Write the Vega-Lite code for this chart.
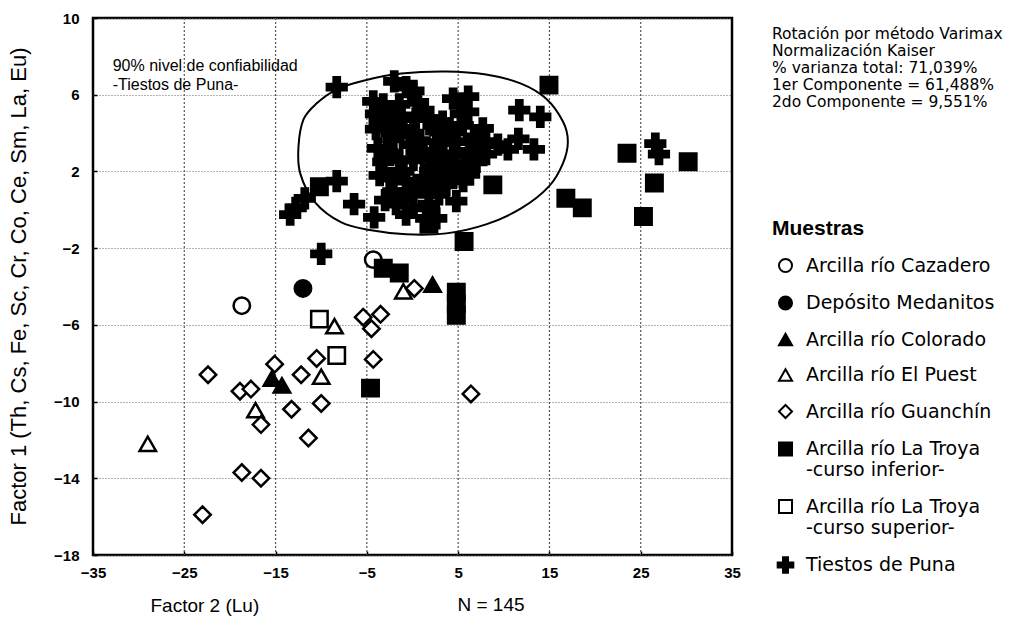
{
  "$schema": "https://vega.github.io/schema/vega-lite/v6.json",
  "width": 639,
  "height": 537,
  "autosize": {"type": "none"},
  "padding": {"left": 93, "top": 18, "right": 300, "bottom": 68},
  "background": "white",
  "datasets": {
    "xgrid": [{"gx": -25}, {"gx": -15}, {"gx": -5}, {"gx": 5}, {"gx": 15}, {"gx": 25}],
    "pts": [
      {"f2": -18.7, "f1": -5.0, "g": "Arcilla río Cazadero"},
      {"f2": -4.3, "f1": -2.6, "g": "Arcilla río Cazadero"},
      {"f2": -12.0, "f1": -4.1, "g": "Depósito Medanitos"},
      {"f2": 2.2, "f1": -3.9, "g": "Arcilla río Colorado"},
      {"f2": -15.4, "f1": -8.8, "g": "Arcilla río Colorado"},
      {"f2": -14.3, "f1": -9.15, "g": "Arcilla río Colorado"},
      {"f2": -29.0, "f1": -12.2, "g": "Arcilla río El Puest"},
      {"f2": -17.2, "f1": -10.45, "g": "Arcilla río El Puest"},
      {"f2": -10.0, "f1": -8.7, "g": "Arcilla río El Puest"},
      {"f2": -8.55, "f1": -6.07, "g": "Arcilla río El Puest"},
      {"f2": -1.0, "f1": -4.25, "g": "Arcilla río El Puest"},
      {"f2": -22.4, "f1": -8.6, "g": "Arcilla río Guanchín"},
      {"f2": -18.9, "f1": -9.46, "g": "Arcilla río Guanchín"},
      {"f2": -17.7, "f1": -9.35, "g": "Arcilla río Guanchín"},
      {"f2": -16.6, "f1": -11.2, "g": "Arcilla río Guanchín"},
      {"f2": -15.1, "f1": -8.05, "g": "Arcilla río Guanchín"},
      {"f2": -13.25, "f1": -10.4, "g": "Arcilla río Guanchín"},
      {"f2": -12.2, "f1": -8.6, "g": "Arcilla río Guanchín"},
      {"f2": -11.4, "f1": -11.9, "g": "Arcilla río Guanchín"},
      {"f2": -10.5, "f1": -7.75, "g": "Arcilla río Guanchín"},
      {"f2": -10.0, "f1": -10.1, "g": "Arcilla río Guanchín"},
      {"f2": -5.4, "f1": -5.6, "g": "Arcilla río Guanchín"},
      {"f2": -3.5, "f1": -5.45, "g": "Arcilla río Guanchín"},
      {"f2": -4.5, "f1": -6.2, "g": "Arcilla río Guanchín"},
      {"f2": -4.3, "f1": -7.8, "g": "Arcilla río Guanchín"},
      {"f2": 0.2, "f1": -4.1, "g": "Arcilla río Guanchín"},
      {"f2": 6.4, "f1": -9.6, "g": "Arcilla río Guanchín"},
      {"f2": -18.7, "f1": -13.7, "g": "Arcilla río Guanchín"},
      {"f2": -16.6, "f1": -14.0, "g": "Arcilla río Guanchín"},
      {"f2": -23.0, "f1": -15.9, "g": "Arcilla río Guanchín"},
      {"f2": -10.2, "f1": -5.7, "g": "Arcilla río La Troya -curso superior-"},
      {"f2": -8.3, "f1": -7.6, "g": "Arcilla río La Troya -curso superior-"},
      {"f2": -8.3, "f1": 6.4, "g": "Tiestos de Puna"},
      {"f2": -8.3, "f1": 1.5, "g": "Tiestos de Puna"},
      {"f2": -11.8, "f1": 0.6, "g": "Tiestos de Puna"},
      {"f2": -12.8, "f1": 0.1, "g": "Tiestos de Puna"},
      {"f2": -13.4, "f1": -0.25, "g": "Tiestos de Puna"},
      {"f2": -6.4, "f1": 0.3, "g": "Tiestos de Puna"},
      {"f2": -4.2, "f1": -0.4, "g": "Tiestos de Puna"},
      {"f2": -10.0, "f1": -2.3, "g": "Tiestos de Puna"},
      {"f2": 11.7, "f1": 5.2, "g": "Tiestos de Puna"},
      {"f2": 14.0, "f1": 4.85, "g": "Tiestos de Puna"},
      {"f2": 11.6, "f1": 3.7, "g": "Tiestos de Puna"},
      {"f2": 13.3, "f1": 3.15, "g": "Tiestos de Puna"},
      {"f2": 26.6, "f1": 3.45, "g": "Tiestos de Puna"},
      {"f2": 27.0, "f1": 2.9, "g": "Tiestos de Puna"},
      {"f2": 4.8, "f1": 0.45, "g": "Tiestos de Puna"},
      {"f2": -2.0, "f1": 6.7, "g": "Tiestos de Puna"},
      {"f2": -0.7, "f1": 6.4, "g": "Tiestos de Puna"},
      {"f2": 0.1, "f1": 6.2, "g": "Tiestos de Puna"},
      {"f2": -4.3, "f1": 5.65, "g": "Tiestos de Puna"},
      {"f2": -3.2, "f1": 5.5, "g": "Tiestos de Puna"},
      {"f2": -1.45, "f1": 5.5, "g": "Tiestos de Puna"},
      {"f2": -4.0, "f1": 5.0, "g": "Tiestos de Puna"},
      {"f2": -2.1, "f1": 5.1, "g": "Tiestos de Puna"},
      {"f2": 1.2, "f1": 5.2, "g": "Tiestos de Puna"},
      {"f2": -3.6, "f1": 4.6, "g": "Tiestos de Puna"},
      {"f2": 0.35, "f1": 4.75, "g": "Tiestos de Puna"},
      {"f2": 1.8, "f1": 4.75, "g": "Tiestos de Puna"},
      {"f2": -4.0, "f1": 4.2, "g": "Tiestos de Puna"},
      {"f2": -1.0, "f1": 4.25, "g": "Tiestos de Puna"},
      {"f2": 0.1, "f1": 4.0, "g": "Tiestos de Puna"},
      {"f2": 2.6, "f1": 4.1, "g": "Tiestos de Puna"},
      {"f2": -2.1, "f1": 3.7, "g": "Tiestos de Puna"},
      {"f2": 1.2, "f1": 3.05, "g": "Tiestos de Puna"},
      {"f2": 2.6, "f1": 3.05, "g": "Tiestos de Puna"},
      {"f2": -3.2, "f1": 2.5, "g": "Tiestos de Puna"},
      {"f2": -1.45, "f1": 2.6, "g": "Tiestos de Puna"},
      {"f2": 0.1, "f1": 2.6, "g": "Tiestos de Puna"},
      {"f2": 1.8, "f1": 2.7, "g": "Tiestos de Puna"},
      {"f2": -2.5, "f1": 1.65, "g": "Tiestos de Puna"},
      {"f2": -0.7, "f1": 1.5, "g": "Tiestos de Puna"},
      {"f2": 1.2, "f1": 1.65, "g": "Tiestos de Puna"},
      {"f2": 2.6, "f1": 1.5, "g": "Tiestos de Puna"},
      {"f2": -2.1, "f1": 0.95, "g": "Tiestos de Puna"},
      {"f2": -0.35, "f1": 0.95, "g": "Tiestos de Puna"},
      {"f2": 1.8, "f1": 0.8, "g": "Tiestos de Puna"},
      {"f2": -1.8, "f1": 0.3, "g": "Tiestos de Puna"},
      {"f2": 0.1, "f1": 0.1, "g": "Tiestos de Puna"},
      {"f2": 1.8, "f1": 0.3, "g": "Tiestos de Puna"},
      {"f2": -0.7, "f1": -0.25, "g": "Tiestos de Puna"},
      {"f2": 1.5, "f1": -0.45, "g": "Tiestos de Puna"},
      {"f2": 4.45, "f1": 5.8, "g": "Tiestos de Puna"},
      {"f2": 6.1, "f1": 5.9, "g": "Tiestos de Puna"},
      {"f2": 5.3, "f1": 5.0, "g": "Tiestos de Puna"},
      {"f2": 6.1, "f1": 5.1, "g": "Tiestos de Puna"},
      {"f2": 4.0, "f1": 4.25, "g": "Tiestos de Puna"},
      {"f2": 7.7, "f1": 4.25, "g": "Tiestos de Puna"},
      {"f2": 6.75, "f1": 3.8, "g": "Tiestos de Puna"},
      {"f2": 3.35, "f1": 3.55, "g": "Tiestos de Puna"},
      {"f2": 4.8, "f1": 3.55, "g": "Tiestos de Puna"},
      {"f2": 8.05, "f1": 3.55, "g": "Tiestos de Puna"},
      {"f2": 9.35, "f1": 3.4, "g": "Tiestos de Puna"},
      {"f2": 2.9, "f1": 2.9, "g": "Tiestos de Puna"},
      {"f2": 4.45, "f1": 2.9, "g": "Tiestos de Puna"},
      {"f2": 6.2, "f1": 3.05, "g": "Tiestos de Puna"},
      {"f2": 8.05, "f1": 2.9, "g": "Tiestos de Puna"},
      {"f2": 10.45, "f1": 3.15, "g": "Tiestos de Puna"},
      {"f2": 3.35, "f1": 2.0, "g": "Tiestos de Puna"},
      {"f2": 4.8, "f1": 2.0, "g": "Tiestos de Puna"},
      {"f2": 6.2, "f1": 1.85, "g": "Tiestos de Puna"},
      {"f2": 3.7, "f1": 1.3, "g": "Tiestos de Puna"},
      {"f2": 5.55, "f1": 1.5, "g": "Tiestos de Puna"},
      {"f2": 2.9, "f1": 0.8, "g": "Tiestos de Puna"},
      {"f2": 2.6, "f1": -0.45, "g": "Tiestos de Puna"},
      {"f2": -3.8, "f1": 3.2, "g": "Tiestos de Puna"},
      {"f2": -2.8, "f1": 3.0, "g": "Tiestos de Puna"},
      {"f2": -0.3, "f1": 3.4, "g": "Tiestos de Puna"},
      {"f2": 0.8, "f1": 3.6, "g": "Tiestos de Puna"},
      {"f2": 3.3, "f1": 4.6, "g": "Tiestos de Puna"},
      {"f2": 5.5, "f1": 4.4, "g": "Tiestos de Puna"},
      {"f2": 7.0, "f1": 2.5, "g": "Tiestos de Puna"},
      {"f2": -2.8, "f1": 4.6, "g": "Tiestos de Puna"},
      {"f2": -1.2, "f1": 4.9, "g": "Tiestos de Puna"},
      {"f2": 0.6, "f1": 5.6, "g": "Tiestos de Puna"},
      {"f2": 2.0, "f1": 2.2, "g": "Tiestos de Puna"},
      {"f2": 3.9, "f1": 2.5, "g": "Tiestos de Puna"},
      {"f2": 5.6, "f1": 2.4, "g": "Tiestos de Puna"},
      {"f2": -3.6, "f1": 1.8, "g": "Tiestos de Puna"},
      {"f2": -1.0, "f1": 2.0, "g": "Tiestos de Puna"},
      {"f2": 0.6, "f1": 1.2, "g": "Tiestos de Puna"},
      {"f2": -3.0, "f1": 0.5, "g": "Tiestos de Puna"},
      {"f2": -0.9, "f1": 0.6, "g": "Tiestos de Puna"},
      {"f2": 3.0, "f1": 3.5, "g": "Tiestos de Puna"},
      {"f2": 4.2, "f1": 1.7, "g": "Tiestos de Puna"},
      {"f2": 7.4, "f1": 3.0, "g": "Tiestos de Puna"},
      {"f2": -2.3, "f1": 4.0, "g": "Tiestos de Puna"},
      {"f2": 2.3, "f1": 4.4, "g": "Tiestos de Puna"},
      {"f2": -10.2, "f1": 1.2, "g": "Arcilla río La Troya -curso inferior-"},
      {"f2": -3.2, "f1": -3.05, "g": "Arcilla río La Troya -curso inferior-"},
      {"f2": -1.45, "f1": -3.3, "g": "Arcilla río La Troya -curso inferior-"},
      {"f2": 4.8, "f1": -4.3, "g": "Arcilla río La Troya -curso inferior-"},
      {"f2": 4.8, "f1": -4.9, "g": "Arcilla río La Troya -curso inferior-"},
      {"f2": 4.8, "f1": -5.5, "g": "Arcilla río La Troya -curso inferior-"},
      {"f2": -4.6, "f1": -9.3, "g": "Arcilla río La Troya -curso inferior-"},
      {"f2": 1.8, "f1": -0.75, "g": "Arcilla río La Troya -curso inferior-"},
      {"f2": 5.65, "f1": -1.65, "g": "Arcilla río La Troya -curso inferior-"},
      {"f2": 8.8, "f1": 1.3, "g": "Arcilla río La Troya -curso inferior-"},
      {"f2": 14.95, "f1": 6.5, "g": "Arcilla río La Troya -curso inferior-"},
      {"f2": 16.8, "f1": 0.6, "g": "Arcilla río La Troya -curso inferior-"},
      {"f2": 18.6, "f1": 0.1, "g": "Arcilla río La Troya -curso inferior-"},
      {"f2": 23.5, "f1": 2.95, "g": "Arcilla río La Troya -curso inferior-"},
      {"f2": 26.5, "f1": 1.4, "g": "Arcilla río La Troya -curso inferior-"},
      {"f2": 25.3, "f1": -0.35, "g": "Arcilla río La Troya -curso inferior-"},
      {"f2": 30.2, "f1": 2.5, "g": "Arcilla río La Troya -curso inferior-"}
    ],
    "ellipse": [
      {"i": 1, "f2": -12.49, "f1": 3.3},
      {"i": 2, "f2": -11.94, "f1": 4.71},
      {"i": 3, "f2": -10.52, "f1": 5.54},
      {"i": 4, "f2": -8.33, "f1": 6.27},
      {"i": 5, "f2": -5.27, "f1": 6.74},
      {"i": 6, "f2": -1.23, "f1": 7.1},
      {"i": 7, "f2": 3.69, "f1": 7.21},
      {"i": 8, "f2": 8.06, "f1": 7.05},
      {"i": 9, "f2": 11.89, "f1": 6.58},
      {"i": 10, "f2": 14.62, "f1": 5.8},
      {"i": 11, "f2": 16.48, "f1": 4.6},
      {"i": 12, "f2": 17.02, "f1": 3.56},
      {"i": 13, "f2": 16.48, "f1": 2.42},
      {"i": 14, "f2": 14.95, "f1": 1.22},
      {"i": 15, "f2": 11.89, "f1": 0.07},
      {"i": 16, "f2": 8.06, "f1": -0.76},
      {"i": 17, "f2": 3.69, "f1": -1.23},
      {"i": 18, "f2": -0.68, "f1": -1.28},
      {"i": 19, "f2": -4.51, "f1": -1.07},
      {"i": 20, "f2": -7.79, "f1": -0.66},
      {"i": 21, "f2": -10.7, "f1": 0.4},
      {"i": 22, "f2": -12.3, "f1": 1.9}
    ],
    "note": [{"n": 1}]
  },
  "layer": [
    {
      "data": {"name": "xgrid"},
      "mark": {"type": "rule", "color": "#555555", "strokeDash": [2, 2], "strokeWidth": 1.2},
      "encoding": {
        "x": {
          "field": "gx", "type": "quantitative",
          "scale": {"domain": [-35, 35], "nice": false, "zero": false},
          "axis": {
            "title": "Factor 2 (Lu)",
            "values": [-35, -25, -15, -5, 5, 15, 25, 35],
            "grid": false,
            "labelOverlap": false,
            "labelFlush": false,
            "titleX": 57,
            "titleY": 50,
            "titleAlign": "left",
            "titleBaseline": "middle",
            "titleAnchor": null
          }
        }
      }
    },
    {
      "data": {"name": "pts"},
      "mark": {"type": "point", "filled": true, "opacity": 1, "strokeWidth": 2.5, "size": 270},
      "encoding": {
        "x": {
          "field": "f2", "type": "quantitative",
          "scale": {"domain": [-35, 35], "nice": false, "zero": false},
          "axis": {
            "title": "Factor 2 (Lu)",
            "values": [-35, -25, -15, -5, 5, 15, 25, 35],
            "grid": false,
            "labelOverlap": false,
            "labelFlush": false,
            "titleX": 57,
            "titleY": 50,
            "titleAlign": "left",
            "titleBaseline": "middle",
            "titleAnchor": null
          }
        },
        "y": {
          "field": "f1", "type": "quantitative",
          "scale": {"domain": [-18, 10], "nice": false, "zero": false},
          "axis": {
            "title": "Factor 1 (Th, Cs, Fe, Sc, Cr, Co, Ce, Sm, La, Eu)",
            "values": [-18,-17,-16,-15,-14,-13,-12,-11,-10,-9,-8,-7,-6,-5,-4,-3,-2,-1,0,1,2,3,4,5,6,7,8,9,10],
            "labelExpr": "(datum.value + 18) % 4 == 0 ? datum.label : ''",
            "grid": true,
            "gridOpacity": {"condition": {"test": "(datum.value + 18) % 4 == 0", "value": 1}, "value": 0},
            "labelOverlap": false,
            "labelFlush": false,
            "labelPadding": 18,
            "titleX": -75,
            "titleY": 268,
            "titleAngle": -90,
            "titleAlign": "center",
            "titleBaseline": "middle",
            "titleAnchor": null,
            "titleFontSize": 22
          }
        },
        "shape": {
          "field": "g", "type": "nominal",
          "scale": {
            "domain": ["Arcilla río Cazadero", "Depósito Medanitos", "Arcilla río Colorado", "Arcilla río El Puest", "Arcilla río Guanchín", "Arcilla río La Troya -curso inferior-", "Arcilla río La Troya -curso superior-", "Tiestos de Puna"],
            "range": ["circle", "circle", "triangle-up", "triangle-up", "diamond", "square", "square", "M-1.2,-0.38H-0.38V-1.2H0.38V-0.38H1.2V0.38H0.38V1.2H-0.38V0.38H-1.2Z"]
          },
          "legend": {
            "title": "Muestras",
            "orient": "none", "legendX": 679, "legendY": 200,
            "labelExpr": "datum.label == 'Arcilla río La Troya -curso inferior-' ? ['Arcilla río La Troya', '-curso inferior-'] : datum.label == 'Arcilla río La Troya -curso superior-' ? ['Arcilla río La Troya', '-curso superior-'] : datum.label"
          }
        },
        "fill": {
          "field": "g", "type": "nominal",
          "scale": {
            "domain": ["Arcilla río Cazadero", "Depósito Medanitos", "Arcilla río Colorado", "Arcilla río El Puest", "Arcilla río Guanchín", "Arcilla río La Troya -curso inferior-", "Arcilla río La Troya -curso superior-", "Tiestos de Puna"],
            "range": ["white", "black", "black", "white", "white", "black", "white", "black"]
          },
          "legend": {
            "title": "Muestras",
            "orient": "none", "legendX": 679, "legendY": 200,
            "labelExpr": "datum.label == 'Arcilla río La Troya -curso inferior-' ? ['Arcilla río La Troya', '-curso inferior-'] : datum.label == 'Arcilla río La Troya -curso superior-' ? ['Arcilla río La Troya', '-curso superior-'] : datum.label"
          }
        },
        "stroke": {
          "field": "g", "type": "nominal",
          "scale": {
            "domain": ["Arcilla río Cazadero", "Depósito Medanitos", "Arcilla río Colorado", "Arcilla río El Puest", "Arcilla río Guanchín", "Arcilla río La Troya -curso inferior-", "Arcilla río La Troya -curso superior-", "Tiestos de Puna"],
            "range": ["black", "black", "black", "black", "black", "black", "black", "black"]
          },
          "legend": {
            "title": "Muestras",
            "orient": "none", "legendX": 679, "legendY": 200,
            "labelExpr": "datum.label == 'Arcilla río La Troya -curso inferior-' ? ['Arcilla río La Troya', '-curso inferior-'] : datum.label == 'Arcilla río La Troya -curso superior-' ? ['Arcilla río La Troya', '-curso superior-'] : datum.label"
          }
        }
      }
    },
    {
      "data": {"name": "ellipse"},
      "mark": {"type": "line", "interpolate": "cardinal-closed", "stroke": "black", "strokeWidth": 2},
      "encoding": {
        "x": {"field": "f2", "type": "quantitative", "scale": {"domain": [-35, 35], "nice": false, "zero": false}},
        "y": {"field": "f1", "type": "quantitative", "scale": {"domain": [-18, 10], "nice": false, "zero": false}},
        "order": {"field": "i", "type": "quantitative"}
      }
    },
    {
      "data": {"name": "note"},
      "mark": {"type": "text", "align": "left", "baseline": "alphabetic", "fontSize": 16, "lineHeight": 19.5, "font": "Liberation Sans", "color": "black"},
      "encoding": {
        "x": {"datum": -32.84, "type": "quantitative", "scale": {"domain": [-35, 35], "nice": false, "zero": false}},
        "y": {"datum": 7.25, "type": "quantitative", "scale": {"domain": [-18, 10], "nice": false, "zero": false}},
        "text": {"value": ["90% nivel de confiabilidad", "-Tiestos de Puna-"]}
      }
    },
    {
      "data": {"name": "note"},
      "mark": {"type": "text", "align": "left", "baseline": "alphabetic", "fontSize": 15.5, "lineHeight": 17, "font": "DejaVu Sans", "color": "black"},
      "encoding": {
        "x": {"datum": 39.38, "type": "quantitative", "scale": {"domain": [-35, 35], "nice": false, "zero": false}},
        "y": {"datum": 8.93, "type": "quantitative", "scale": {"domain": [-18, 10], "nice": false, "zero": false}},
        "text": {"value": ["Rotación por método Varimax", "Normalización Kaiser", "% varianza total: 71,039%", "1er Componente = 61,488%", "2do Componente = 9,551%"]}
      }
    },
    {
      "data": {"name": "note"},
      "mark": {"type": "text", "align": "center", "baseline": "middle", "fontSize": 19, "font": "Liberation Sans", "color": "black"},
      "encoding": {
        "x": {"datum": 8.6, "type": "quantitative", "scale": {"domain": [-35, 35], "nice": false, "zero": false}},
        "y": {"datum": -20.6, "type": "quantitative", "scale": {"domain": [-18, 10], "nice": false, "zero": false}},
        "text": {"value": "N = 145"}
      }
    }
  ],
  "config": {
    "font": "Liberation Sans",
    "view": {"stroke": "black", "strokeWidth": 2.5},
    "axis": {
      "domain": false,
      "labelFont": "Liberation Sans",
      "labelFontSize": 15,
      "labelFontWeight": "bold",
      "labelColor": "black",
      "labelPadding": 14,
      "titleFont": "Liberation Sans",
      "titleFontSize": 19,
      "titleFontWeight": "normal",
      "titleColor": "black",
      "gridColor": "#666666",
      "gridDash": [1, 2],
      "gridWidth": 1,
      "tickColor": "black",
      "tickSize": -4,
      "tickWidth": 1.5
    },
    "legend": {
      "padding": 0,
      "titleFont": "Liberation Sans",
      "titleFontSize": 21,
      "titleFontWeight": "bold",
      "titleColor": "black",
      "titlePadding": 17,
      "labelFont": "DejaVu Sans",
      "labelFontSize": 19,
      "labelColor": "black",
      "labelLimit": 300,
      "labelOffset": 11,
      "symbolOffset": 4,
      "symbolSize": 170,
      "symbolStrokeWidth": 2,
      "rowPadding": 14.5
    }
  }
}
